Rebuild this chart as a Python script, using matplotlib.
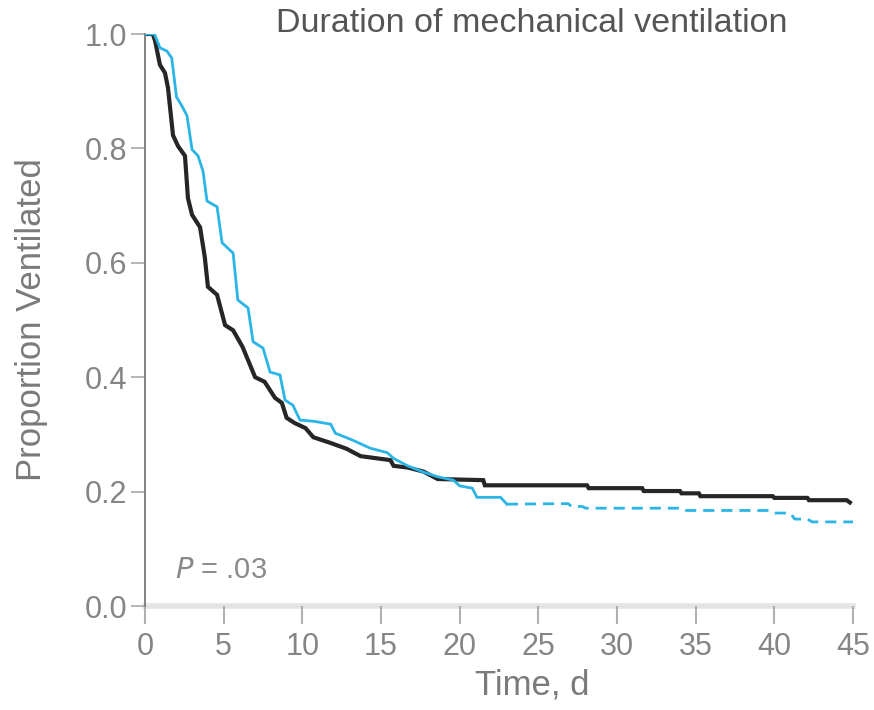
import matplotlib
matplotlib.use("Agg")
import matplotlib.pyplot as plt

# curve corners (days, proportion still ventilated)
black_t = [0, 0.5, 0.64, 0.95, 1.27, 1.46, 1.78, 2.1, 2.54, 2.73, 2.99, 3.5, 3.8,
           4.0, 4.58, 5.09, 5.6, 6.2, 7.0, 7.6, 8.26, 8.7, 9.0, 9.5, 10.2, 10.7,
           11.8, 12.8, 13.7, 15.6, 15.8, 16.7, 17.7, 18.6, 21.5, 21.6, 28.1, 28.2,
           31.6, 31.7, 34.0, 34.1, 35.2, 35.3, 39.9, 40.0, 42.1, 42.2, 44.6, 44.8]
black_s = [1.0, 1.0, 0.988, 0.946, 0.932, 0.906, 0.823, 0.804, 0.787, 0.713, 0.684,
           0.662, 0.61, 0.558, 0.544, 0.491, 0.482, 0.453, 0.40, 0.392, 0.364, 0.355,
           0.329, 0.32, 0.311, 0.295, 0.285, 0.275, 0.262, 0.255, 0.245, 0.242, 0.235,
           0.222, 0.22, 0.211, 0.211, 0.206, 0.206, 0.201, 0.201, 0.197, 0.197, 0.192,
           0.192, 0.189, 0.189, 0.185, 0.185, 0.181]

blue_t = [0, 0.6, 0.95, 1.4, 1.7, 2.0, 2.35, 2.67, 2.99, 3.37, 3.69, 3.94, 4.45,
          4.58, 4.9, 5.6, 5.9, 6.55, 6.87, 7.5, 7.95, 8.58, 8.9, 9.4, 9.85, 10.7,
          11.8, 12.1, 13.2, 14.3, 15.4, 15.8, 16.7, 17.7, 18.6, 19.6, 20.0, 20.8,
          21.1, 22.6, 23.0]
blue_s = [1.0, 1.0, 0.976, 0.97, 0.958, 0.89, 0.874, 0.857, 0.798, 0.787, 0.76,
          0.708, 0.70, 0.698, 0.635, 0.617, 0.535, 0.521, 0.462, 0.451, 0.409, 0.404,
          0.36, 0.351, 0.325, 0.323, 0.318, 0.302, 0.29, 0.276, 0.268, 0.258, 0.245,
          0.234, 0.226, 0.22, 0.21, 0.206, 0.19, 0.19, 0.178]

# dashed tail of the blue curve
blue_tail_t = [23.0, 26.9, 27.1, 27.8, 28.0, 34.2, 34.4, 39.7, 40.0, 41.0, 41.3,
               42.1, 42.4, 45.0]
blue_tail_s = [0.178, 0.179, 0.174, 0.174, 0.171, 0.171, 0.167, 0.167, 0.1625,
               0.1625, 0.152, 0.152, 0.147, 0.147]

xticks = [0, 5, 10, 15, 20, 25, 30, 35, 40, 45]
yticks = [0.0, 0.2, 0.4, 0.6, 0.8, 1.0]

plt.rcParams["font.family"] = ["Liberation Sans", "DejaVu Sans"]

fig = plt.figure(figsize=(8.74, 7.10), dpi=100)
ax = fig.add_axes([145 / 874, 1 - 606 / 710, 708 / 874, 572 / 710])

blue = "#2bb5e6"
ax.plot(blue_t, blue_s, color=blue, lw=2.0, zorder=3, solid_joinstyle="miter")
ax.plot(blue_tail_t, blue_tail_s, color=blue, lw=2.0, ls=(0, (4, 2.5)), zorder=3)
ax.plot(black_t, black_s, color="#262626", lw=3.0, zorder=2, solid_joinstyle="miter")

ax.set_xlim(0, 45)
ax.set_ylim(0, 1.0)
ax.set_xticks(xticks)
ax.set_yticks(yticks)
ax.set_yticklabels([f"{v:.1f}" for v in yticks])

for s in ("top", "right"):
    ax.spines[s].set_visible(False)
ax.spines["left"].set_color("#7a7a7a")
ax.spines["left"].set_linewidth(1.3)
ax.spines["bottom"].set_color("#e4e4e4")
ax.spines["bottom"].set_linewidth(4)
ax.spines["bottom"].set_zorder(1)

ax.tick_params(axis="x", length=13, width=1.5, color="#b0b0b0", labelsize=22,
               labelcolor="#858585", pad=6)
ax.tick_params(axis="y", length=10, width=1.3, color="#b0b0b0", labelsize=22,
               labelcolor="#858585", pad=3)

ax.set_xlabel("Time, d", fontsize=25, color="#7a7a7a")
ax.xaxis.set_label_coords((532 - 145) / 708, -0.11)
ax.set_ylabel("Proportion Ventilated", fontsize=25, color="#7a7a7a")
ax.yaxis.set_label_coords(-0.137, 0.5)

fig.text(532 / 874, 1 - 24 / 710, "Duration of mechanical ventilation",
         ha="center", va="center", fontsize=24.5, color="#555555")

ax.text(1.9, 0.063, "$P$ = .03", fontsize=21, color="#8a8a8a", va="center",
        ha="left")

fig.savefig("out.png", dpi=100)
